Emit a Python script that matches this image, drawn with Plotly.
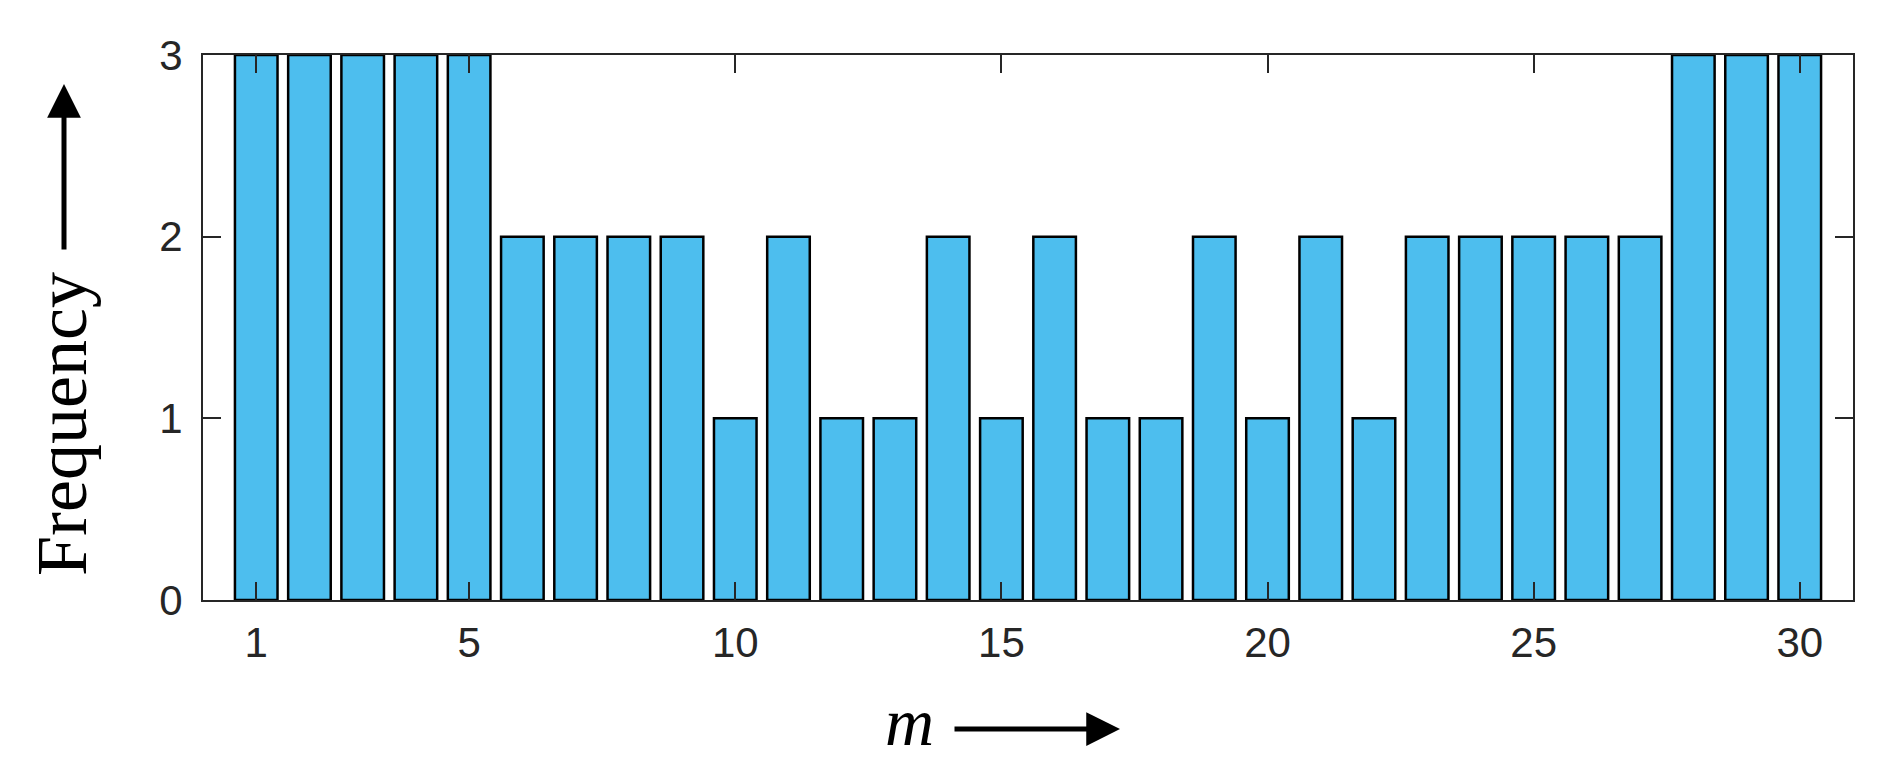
"""Frequency of m: bar chart with arrowed axis labels."""
import plotly.graph_objects as go

M = list(range(1, 31))
FREQ = [3, 3, 3, 3, 3, 2, 2, 2, 2, 1,
        2, 1, 1, 2, 1, 2, 1, 1, 2, 1,
        2, 1, 2, 2, 2, 2, 2, 3, 3, 3]
X_TICKS = [1, 5, 10, 15, 20, 25, 30]
Y_TICKS = [0, 1, 2, 3]

OFF = 8                                  # page body margin
W, H = 1892 - OFF, 771 - OFF
L, R, T, B = 203 - OFF, 1853 - OFF, 55 - OFF, 600 - OFF   # plot area in figure pixels
BAR, EDGE, AX = "#4DBEEE", "#000000", "#262626"


def px(x):
    return (x - OFF - L) / (R - L)


def py(y):
    return (B - (y - OFF)) / (B - T)


fig = go.Figure(go.Bar(x=M, y=FREQ, width=0.8, marker=dict(color=BAR, line=dict(color=EDGE, width=2.5))))

axis = dict(showline=True, linecolor=AX, linewidth=2, mirror="ticks", ticks="inside", ticklen=18,
            tickwidth=2, tickcolor=AX, showgrid=False, zeroline=False, layer="above traces",
            automargin=False, tickfont=dict(family="Liberation Sans", size=42, color=AX))
fig.update_xaxes(range=[0, 31], tickvals=X_TICKS, ticklabelstandoff=5, **axis)
fig.update_yaxes(range=[0, 3], tickvals=Y_TICKS, ticklabelstandoff=10, **axis)

fig.add_annotation(text="Frequency", textangle=-90, xref="paper", yref="paper", x=px(62), y=py(424),
                   xanchor="center", yanchor="middle", showarrow=False,
                   font=dict(family="Liberation Serif", size=72, color="black"))
fig.add_annotation(text="<i>m</i>", xref="paper", yref="paper", x=px(909), y=py(722),
                   xanchor="center", yanchor="middle", showarrow=False,
                   font=dict(family="Liberation Serif", size=68, color="black"))
# arrows next to the labels
fig.add_annotation(text="", xref="paper", yref="paper", x=px(64), y=py(84), ax=0, ay=167,
                   showarrow=True, arrowhead=2, arrowwidth=5, arrowsize=1.35, arrowcolor="black")
fig.add_annotation(text="", xref="paper", yref="paper", x=px(1120), y=py(729), ax=-167, ay=0,
                   showarrow=True, arrowhead=2, arrowwidth=5, arrowsize=1.35, arrowcolor="black")

fig.update_layout(width=W, height=H, margin=dict(l=L, r=W - R, t=T, b=H - B), showlegend=False,
                  plot_bgcolor="white", paper_bgcolor="white")
fig.write_html("out.html")
